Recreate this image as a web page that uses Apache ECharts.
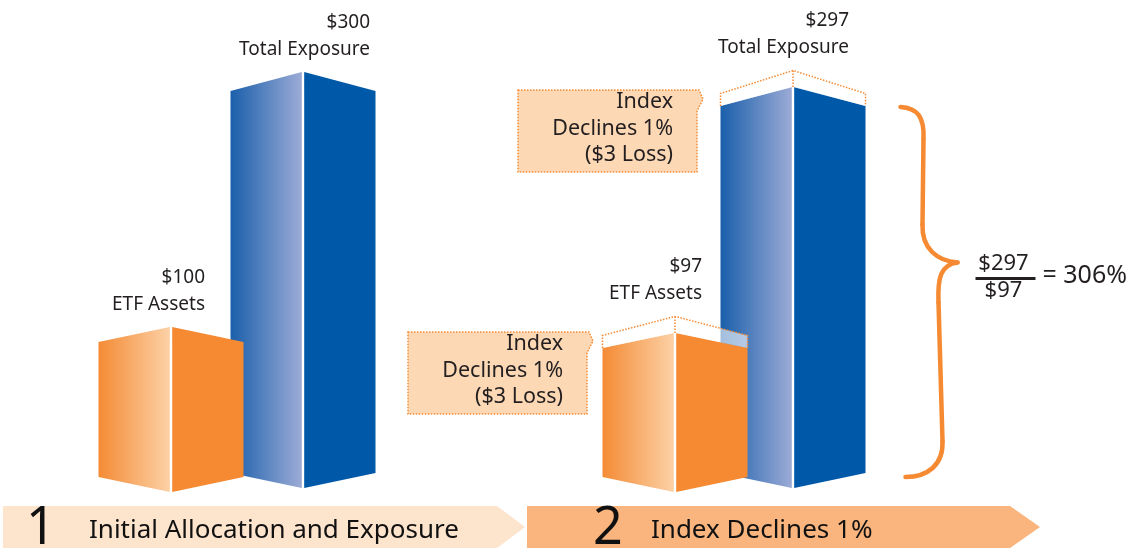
<!DOCTYPE html>
<html><head><meta charset="utf-8">
<script src="https://cdn.jsdelivr.net/npm/echarts@6/dist/echarts.min.js"></script>
<style>html,body{margin:0;padding:0;background:#fff}#c{width:1147px;height:548px}</style>
</head><body><div id="c"></div>
<script>
// ---- data ----
const categories = ['ETF Assets', 'Total Exposure'];
const initialValues = [100, 300];
const declinedValues = [97, 297];
const indexDeclinePct = 1;
const stepNumbers = ['1', '2'];
const stepLabels = ['Initial Allocation and Exposure', 'Index Declines 1%'];

// ---- style ----
const FONT = '"Noto Sans", "DejaVu Sans", sans-serif';
const TEXT = '#231F20';
const ORANGE = '#F58A33';
const HALF_W = 72.5, GAP = 1.2, BOTTOM_OFF = 15;
const PEAK_OFF = [15, 19];
const BASE_SHIFT = [2, -2];
const LABEL_DX = [[34, 67], [27, 56]];
const BOX_DX = [-15.5, -23.5];
const FILL_SOLID = ['#F58A33', '#0058A8'];
const FILL_FROM = ['#F48B35', '#1A5FAB'];
const FILL_TO = ['#FCD1A6', '#9CABD6'];

function renderItem(params, api) {
  const cat = api.value(0);
  const val = api.value(1);
  const prev = api.value(2);
  const hasPrev = prev != null && !isNaN(prev);
  const top = api.coord([cat, val]);
  const base = api.coord([cat, 0]);
  const xc = top[0], xl = xc - HALF_W, xr = xc + HALF_W;
  const peak = top[1], side = peak + PEAK_OFF[cat];
  const bc = base[1] + BASE_SHIFT[cat], bs = bc - BOTTOM_OFF;
  const ch = [];
  ch.push({type: 'polygon', shape: {points: [[xl, side], [xc - GAP, peak], [xc - GAP, bc], [xl, bs]]},
    style: {fill: {type: 'linear', x: 0, y: 0, x2: 1, y2: 0, colorStops: [{offset: 0, color: FILL_FROM[cat]}, {offset: 1, color: FILL_TO[cat]}]}}});
  ch.push({type: 'polygon', shape: {points: [[xc + GAP, peak], [xr, side], [xr, bs], [xc + GAP, bc]]},
    style: {fill: FILL_SOLID[cat]}});
  let labelPeak = peak;
  if (hasPrev) {
    const op = api.coord([cat, prev])[1];
    const os = op + PEAK_OFF[cat] + 4;
    labelPeak = op;
    ch.push({type: 'polygon', shape: {points: [[xl, side], [xl, os], [xc, op], [xr, os], [xr, side], [xc, peak]]},
      style: {fill: 'rgba(255,255,255,0.6)'}});
    ch.push({type: 'polyline', shape: {points: [[xl, side], [xl, os], [xc, op], [xr, os], [xr, side]]},
      style: {fill: null, stroke: ORANGE, lineWidth: 1.5, lineDash: [1.5, 1.5]}});
    ch.push({type: 'line', shape: {x1: xc, y1: op, x2: xc, y2: peak},
      style: {stroke: ORANGE, lineWidth: 1.5, lineDash: [1.5, 1.5]}});
    // callout box
    const R = xl + BOX_DX[cat], T = side - 16, W = 179, H = 82, L = R - W;
    ch.push({type: 'polygon', shape: {points: [[L, T], [R + 2, T], [R + 6, T + 9], [R, T + 21], [R, T + H], [L, T + H]]},
      style: {fill: '#FCD8B5', stroke: ORANGE, lineWidth: 1.5, lineDash: [1.5, 1.5]}});
    const loss = prev - val;
    ch.push({type: 'text', style: {text: 'Index\nDeclines ' + indexDeclinePct + '%\n($' + loss + ' Loss)',
      x: R - 24, y: T - 1, align: 'right', verticalAlign: 'top', font: '21.5px ' + FONT, lineHeight: 26.5, fill: TEXT}});
    if (cat === 1) {
      // brace
      const ox = xr, Tb = side + 1, Bb = bs + 4, M = Tb + 0.42 * (Bb - Tb);
      const bs1 = {stroke: ORANGE, lineWidth: 4.5, lineCap: 'round', fill: null};
      ch.push({type: 'bezierCurve', shape: {x1: ox + 35, y1: Tb, cpx1: ox + 52, cpy1: Tb + 1, cpx2: ox + 59, cpy2: Tb + 10, x2: ox + 58, y2: Tb + 32}, style: bs1});
      ch.push({type: 'line', shape: {x1: ox + 58, y1: Tb + 32, x2: ox + 57, y2: M - 38}, style: bs1});
      ch.push({type: 'bezierCurve', shape: {x1: ox + 57, y1: M - 38, cpx1: ox + 56, cpy1: M - 14, cpx2: ox + 72, cpy2: M - 1, x2: ox + 92, y2: M}, style: bs1});
      ch.push({type: 'bezierCurve', shape: {x1: ox + 92, y1: M, cpx1: ox + 75, cpy1: M + 2, cpx2: ox + 72, cpy2: M + 16, x2: ox + 73, y2: M + 40}, style: bs1});
      ch.push({type: 'line', shape: {x1: ox + 73, y1: M + 40, x2: ox + 77, y2: Bb - 36}, style: bs1});
      ch.push({type: 'bezierCurve', shape: {x1: ox + 77, y1: Bb - 36, cpx1: ox + 78, cpy1: Bb - 12, cpx2: ox + 62, cpy2: Bb, x2: ox + 40, y2: Bb}, style: bs1});
      // ratio formula
      const ratio = Math.round(declinedValues[1] / declinedValues[0] * 100);
      const fx = ox + 138;
      ch.push({type: 'text', style: {text: '$' + declinedValues[1], x: fx, y: M + 1, align: 'center', verticalAlign: 'middle', font: '22px ' + FONT, fill: TEXT}});
      ch.push({type: 'line', shape: {x1: ox + 110, y1: M + 16, x2: ox + 170, y2: M + 16}, style: {stroke: TEXT, lineWidth: 3}});
      ch.push({type: 'text', style: {text: '$' + declinedValues[0], x: fx, y: M + 28, align: 'center', verticalAlign: 'middle', font: '22px ' + FONT, fill: TEXT}});
      ch.push({type: 'text', style: {text: '= ' + ratio + '%', x: ox + 177, y: M + 13, align: 'left', verticalAlign: 'middle', font: '25px ' + FONT, fill: TEXT}});
    }
  }
  ch.push({type: 'text', style: {text: '$' + val + '\n' + categories[cat], x: xc + LABEL_DX[params.seriesIndex][cat], y: labelPeak - 9,
    align: 'right', verticalAlign: 'bottom', font: '19px ' + FONT, lineHeight: 27, fill: TEXT}});
  return {type: 'group', children: ch};
}

const panel1 = [[1, initialValues[1], null], [0, initialValues[0], null]];
const panel2 = [[1, declinedValues[1], initialValues[1]], [0, declinedValues[0], initialValues[0]]];

const chart = echarts.init(document.getElementById('c'), null, {renderer: 'canvas'});
chart.setOption({
  animation: false,
  backgroundColor: '#fff',
  grid: [
    {left: 105, width: 264, top: 72, height: 418},
    {left: 616, width: 236, top: 70.5, height: 419.5}
  ],
  xAxis: [
    {type: 'category', gridIndex: 0, data: categories, show: false},
    {type: 'category', gridIndex: 1, data: categories, show: false}
  ],
  yAxis: [
    {type: 'value', gridIndex: 0, min: 0, max: 300, show: false, splitLine: {show: false},
      breaks: [{start: 110, end: 290, gap: 136.4}], breakArea: {show: false}},
    {type: 'value', gridIndex: 1, min: 0, max: 300, show: false, splitLine: {show: false},
      breaks: [{start: 10, end: 90, gap: 11.55}, {start: 110, end: 290, gap: 24.7}], breakArea: {show: false}}
  ],
  series: [
    {type: 'custom', xAxisIndex: 0, yAxisIndex: 0, dimensions: ['cat', 'value', 'prev'], encode: {x: 0, y: 1}, data: panel1, renderItem: renderItem, clip: false},
    {type: 'custom', xAxisIndex: 1, yAxisIndex: 1, dimensions: ['cat', 'value', 'prev'], encode: {x: 0, y: 1}, data: panel2, renderItem: renderItem, clip: false}
  ],
  graphic: [
    {type: 'polygon', shape: {points: [[3, 506], [497, 506], [525, 527], [497, 548], [3, 548]]}, style: {fill: '#FDE4CD'}},
    {type: 'polygon', shape: {points: [[527, 506], [1010, 506], [1040, 527], [1010, 548], [527, 548]]}, style: {fill: '#F9B57D'}},
    {type: 'text', x: 26, y: 529, style: {text: stepNumbers[0], font: '52px ' + FONT, verticalAlign: 'middle', fill: '#111'}},
    {type: 'text', x: 89, y: 531, style: {text: stepLabels[0], font: '26px ' + FONT, verticalAlign: 'middle', fill: '#111'}},
    {type: 'text', x: 593, y: 529, style: {text: stepNumbers[1], font: '52px ' + FONT, verticalAlign: 'middle', fill: '#111'}},
    {type: 'text', x: 651, y: 531, style: {text: stepLabels[1], font: '26px ' + FONT, verticalAlign: 'middle', fill: '#111'}}
  ]
});
</script></body></html>
